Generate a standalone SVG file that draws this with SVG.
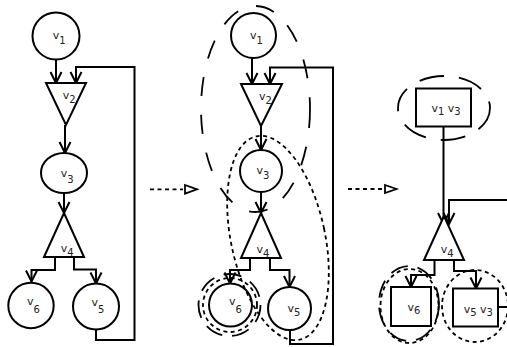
<svg xmlns="http://www.w3.org/2000/svg" width="507" height="347" viewBox="0 0 507 347">
<defs>
<marker id="arr" markerUnits="userSpaceOnUse" markerWidth="16" markerHeight="16" refX="0" refY="0" viewBox="-13 -8 16 16" orient="auto" overflow="visible">
<path d="M-11,-5.5 L0,0 L-11,5.5" fill="none" stroke="#000" stroke-width="2"/>
</marker>
</defs>
<style>
.n{fill:#fff;stroke:#000;stroke-width:2}
.c{fill:none;stroke:#000;stroke-width:2}
.a{marker-end:url(#arr)}
.t{font-family:"DejaVu Sans",sans-serif;font-size:11px;fill:#222}
.s{font-size:10px}
.ld{fill:none;stroke:#000;stroke-width:1.8;stroke-dasharray:19 19}
.lc{fill:none;stroke:#000;stroke-width:1.8;stroke-dasharray:18 10}
.dt{fill:none;stroke:#000;stroke-width:1.8;stroke-dasharray:4 3.5}
.dd{fill:none;stroke:#000;stroke-width:1.8;stroke-dasharray:25 15}
.ta{fill:#fff;stroke:#000;stroke-width:1.8}
</style>
<rect width="507" height="347" fill="#fff"/>

<g id="connectors">
<path class="c a" d="M56,59.5 V83"/>
<path class="c a" d="M96,329.5 V340 H134.5 V67 H76 V83"/>
<path class="c a" d="M65,125 V153"/>
<path class="c a" d="M64,193 V213"/>
<path class="c a" d="M55,257 V270 H31.5 V281.5"/>
<path class="c a" d="M74,257 V269.5 H96 V283.5"/>

<path class="c a" d="M252,58 V84"/>
<path class="c a" d="M290,330 V344 H333 V67.5 H270 V84"/>
<path class="c a" d="M261,126 V150"/>
<path class="c a" d="M261,192 V213"/>
<path class="c a" d="M250,258 V270 H230 V283.5"/>
<path class="c a" d="M270,258 V270 H289.5 V287"/>

<path class="c a" d="M443.5,126.5 V224"/>
<path class="c a" d="M507,200 H449 V224"/>
<path class="c a" d="M434.5,260 V275 H411 V287"/>
<path class="c a" d="M454,260 V271 H476 V288.5"/>
<path class="c" d="M498,307 H507"/>

<path class="dt" d="M150,189.3 H183"/>
<polygon class="ta" points="185,185 197,189.3 185,193.6"/>
<path class="dt" d="M348,189 H383"/>
<polygon class="ta" points="385,185 396.5,189 385,193"/>
</g>

<g id="left">
<g id="L_v1"><circle class="n" cx="56" cy="36" r="23.5"/><text class="t" x="52.7" y="39">v<tspan class="s" dy="5">1</tspan></text></g>
<g id="L_v2"><polygon class="n" points="46,83 86,83 66,125"/><text class="t" x="62.7" y="99">v<tspan class="s" dy="4">2</tspan></text></g>
<g id="L_v3"><ellipse class="n" cx="64" cy="173" rx="23" ry="20"/><text class="t" x="60.7" y="177.3">v<tspan class="s" dy="5.4">3</tspan></text></g>
<g id="L_v4"><polygon class="n" points="44,257 84,257 64,213"/><text class="t" x="60.7" y="251.7">v<tspan class="s" dy="4.3">4</tspan></text></g>
<g id="L_v6"><circle class="n" cx="31" cy="305.5" r="22.7"/><text class="t" x="27" y="305.3">v<tspan class="s" dy="8">6</tspan></text></g>
<g id="L_v5"><circle class="n" cx="96" cy="306.5" r="23"/><text class="t" x="91.4" y="306">v<tspan class="s" dy="7.3">5</tspan></text></g>
</g>

<g id="middle">
<g id="M_v1"><circle class="n" cx="253.5" cy="35.5" r="22.5"/><text class="t" x="250" y="38.5">v<tspan class="s" dy="5">1</tspan></text></g>
<g id="M_v2"><polygon class="n" points="241,84 282,84 261,126"/><text class="t" x="259" y="100">v<tspan class="s" dy="4">2</tspan></text></g>
<g id="M_v3"><circle class="n" cx="261" cy="171" r="21"/><text class="t" x="256.4" y="174">v<tspan class="s" dy="5.3">3</tspan></text></g>
<g id="M_v4"><polygon class="n" points="241,258 281,258 261,213"/><text class="t" x="256.4" y="253.3">v<tspan class="s" dy="3.4">4</tspan></text></g>
<g id="M_v6"><circle class="n" cx="230.5" cy="305" r="21.5"/><text class="t" x="229" y="305">v<tspan class="s" dy="8.3">6</tspan></text></g>
<g id="M_v5"><circle class="n" cx="289.5" cy="308.5" r="21.5"/><text class="t" x="287.4" y="311.7">v<tspan class="s" dy="4.3">5</tspan></text></g>
<g id="M_part1"><ellipse class="ld" cx="255.5" cy="109" rx="54.5" ry="103"/></g>
<g id="M_part2"><ellipse class="dt" cx="278" cy="238" rx="47" ry="104" transform="rotate(-12 278 238)"/></g>
<g id="M_part3"><circle class="lc" cx="229.5" cy="305" r="31"/><circle class="dt" cx="230" cy="305" r="27"/></g>
</g>

<g id="right">
<g id="R_v1v3"><rect class="n" x="416" y="88.5" width="55" height="38"/><text class="t" x="431.4" y="112.3">v<tspan class="s" dy="2.7">1</tspan><tspan dy="-2.7"> v</tspan><tspan class="s" dy="2.7">3</tspan></text><ellipse class="dd" cx="444" cy="108" rx="46" ry="32"/></g>
<g id="R_v4"><polygon class="n" points="424,260 464,260 444,216"/><text class="t" x="440.7" y="253.3">v<tspan class="s" dy="3.7">4</tspan></text></g>
<g id="R_v6"><rect class="n" x="391" y="287" width="40" height="39"/><text class="t" x="407.4" y="310.7">v<tspan class="s" dy="3.6">6</tspan></text><ellipse class="lc" cx="409" cy="303.5" rx="30" ry="37.5"/><ellipse class="dt" cx="409.5" cy="306" rx="29" ry="37"/></g>
<g id="R_v5v3"><rect class="n" x="453" y="288.5" width="45" height="38"/><text class="t" x="463.7" y="312.7">v<tspan class="s" dy="3.3">5</tspan><tspan dy="-3.3"> v</tspan><tspan class="s" dy="3.3">3</tspan></text><ellipse class="dt" cx="475" cy="306" rx="33" ry="36"/></g>
</g>
</svg>
